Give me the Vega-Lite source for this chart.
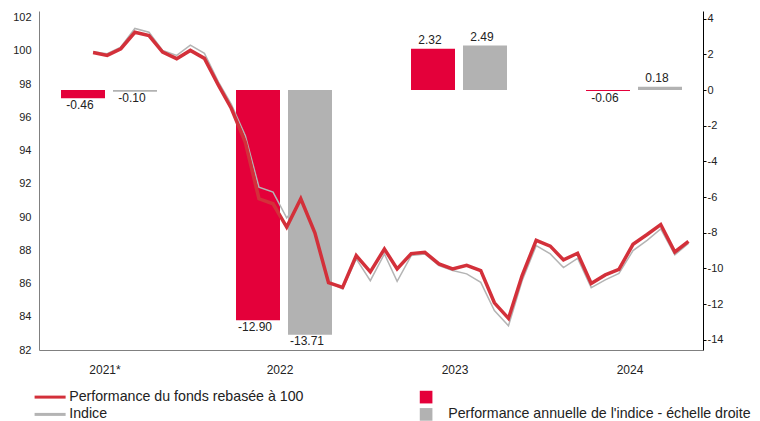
{
  "$schema": "https://vega.github.io/schema/vega-lite/v6.json",
  "width": 664,
  "height": 339,
  "autosize": {"type": "none"},
  "padding": {"left": 39, "top": 11, "right": 57, "bottom": 71},
  "background": "white",
  "config": {
    "font": "Liberation Sans",
    "locale": {"number": {"decimal": ".", "thousands": ",", "grouping": [3], "currency": ["", ""], "minus": "-"}},
    "view": {"stroke": null},
    "axis": {"grid": false, "title": null, "labelFont": "Liberation Sans", "labelColor": "#222222", "labelOverlap": false},
    "legend": {"labelFont": "Liberation Sans"}
  },
  "datasets": {
    "annuel": [
      {"annee": "2021*", "serie": "Performance annuelle du fonds", "perf": -0.46},
      {"annee": "2021*", "serie": "Performance annuelle de l'indice - échelle droite", "perf": -0.10},
      {"annee": "2022", "serie": "Performance annuelle du fonds", "perf": -12.90},
      {"annee": "2022", "serie": "Performance annuelle de l'indice - échelle droite", "perf": -13.71},
      {"annee": "2023", "serie": "Performance annuelle du fonds", "perf": 2.32},
      {"annee": "2023", "serie": "Performance annuelle de l'indice - échelle droite", "perf": 2.49},
      {"annee": "2024", "serie": "Performance annuelle du fonds", "perf": -0.06},
      {"annee": "2024", "serie": "Performance annuelle de l'indice - échelle droite", "perf": 0.18}
    ],
    "mensuel": [
      {"date": "2021-04-30", "fonds": 99.9, "indice": 99.95},
      {"date": "2021-05-31", "fonds": 99.73, "indice": 99.83},
      {"date": "2021-06-30", "fonds": 100.13, "indice": 100.23},
      {"date": "2021-07-31", "fonds": 101.12, "indice": 101.35},
      {"date": "2021-08-31", "fonds": 100.92, "indice": 101.12},
      {"date": "2021-09-30", "fonds": 99.93, "indice": 100.03},
      {"date": "2021-10-31", "fonds": 99.53, "indice": 99.73},
      {"date": "2021-11-30", "fonds": 100.03, "indice": 100.35},
      {"date": "2021-12-31", "fonds": 99.55, "indice": 99.85},
      {"date": "2022-01-31", "fonds": 97.92, "indice": 98.12},
      {"date": "2022-02-28", "fonds": 96.55, "indice": 96.8},
      {"date": "2022-03-31", "fonds": 94.5, "indice": 94.9},
      {"date": "2022-04-30", "fonds": 91.1, "indice": 91.8},
      {"date": "2022-05-31", "fonds": 90.8, "indice": 91.5},
      {"date": "2022-06-30", "fonds": 89.4, "indice": 89.95},
      {"date": "2022-07-31", "fonds": 91.1, "indice": 91.05},
      {"date": "2022-08-31", "fonds": 89.05, "indice": 88.95},
      {"date": "2022-09-30", "fonds": 86.05, "indice": 86.1},
      {"date": "2022-10-31", "fonds": 85.77, "indice": 85.67},
      {"date": "2022-11-30", "fonds": 87.68, "indice": 87.48},
      {"date": "2022-12-31", "fonds": 86.7, "indice": 86.17},
      {"date": "2023-01-31", "fonds": 88.08, "indice": 87.78},
      {"date": "2023-02-28", "fonds": 86.88, "indice": 86.13},
      {"date": "2023-03-31", "fonds": 87.8, "indice": 87.68},
      {"date": "2023-04-30", "fonds": 87.88, "indice": 87.78},
      {"date": "2023-05-31", "fonds": 87.18, "indice": 87.08},
      {"date": "2023-06-30", "fonds": 86.88, "indice": 86.78},
      {"date": "2023-07-31", "fonds": 87.1, "indice": 86.58},
      {"date": "2023-08-31", "fonds": 86.78, "indice": 86.07},
      {"date": "2023-09-30", "fonds": 84.84, "indice": 84.37},
      {"date": "2023-10-31", "fonds": 83.9, "indice": 83.46},
      {"date": "2023-11-30", "fonds": 86.48, "indice": 86.17},
      {"date": "2023-12-31", "fonds": 88.6, "indice": 88.28},
      {"date": "2024-01-31", "fonds": 88.25, "indice": 87.78},
      {"date": "2024-02-29", "fonds": 87.42, "indice": 86.96},
      {"date": "2024-03-31", "fonds": 87.82, "indice": 87.52},
      {"date": "2024-04-30", "fonds": 86.0, "indice": 85.75},
      {"date": "2024-05-31", "fonds": 86.52, "indice": 86.22},
      {"date": "2024-06-30", "fonds": 86.85, "indice": 86.61},
      {"date": "2024-07-31", "fonds": 88.36, "indice": 87.98},
      {"date": "2024-08-31", "fonds": 88.95, "indice": 88.6},
      {"date": "2024-09-30", "fonds": 89.55, "indice": 89.29},
      {"date": "2024-10-31", "fonds": 87.9, "indice": 87.73},
      {"date": "2024-11-30", "fonds": 88.54, "indice": 88.41}
    ]
  },
  "layer": [
    {
      "data": {"name": "annuel"},
      "encoding": {
        "x": {
          "field": "annee", "type": "nominal", "sort": null,
          "scale": {"domain": ["2021*", "2022", "2023", "2024"], "range": [-17.5, 682.5], "paddingInner": 0, "paddingOuter": 0},
          "axis": {"orient": "bottom", "domain": false, "ticks": false, "tickSize": 0, "labelPadding": 14, "labelOffset": -4, "labelAngle": 0, "labelFontSize": 12}
        },
        "xOffset": {
          "field": "serie", "type": "nominal", "sort": null,
          "scale": {"domain": ["Performance annuelle du fonds", "Performance annuelle de l'indice - échelle droite"], "paddingInner": 0.1538, "paddingOuter": 0.76}
        },
        "y": {
          "field": "perf", "type": "quantitative",
          "scale": {"domain": [-14.57, 4.43], "nice": false, "zero": false},
          "axis": {"orient": "right", "values": [-14, -12, -10, -8, -6, -4, -2, 0, 2, 4], "labelOverlap": false, "domainColor": "#000000", "tickColor": "#000000", "tickSize": 3, "labelPadding": 1, "labelFontSize": 11}
        }
      },
      "layer": [
        {
          "mark": {"type": "bar"},
          "encoding": {
            "y2": {"datum": 0},
            "fill": {
              "field": "serie", "type": "nominal",
              "scale": {"domain": ["Performance annuelle du fonds", "Performance annuelle de l'indice - échelle droite"], "range": ["#E4003A", "#B2B2B2"]},
              "legend": {
                "orient": "none", "legendX": 380, "legendY": 379, "direction": "vertical", "title": null,
                "symbolType": "square", "symbolSize": 160, "symbolStrokeWidth": 0,
                "labelFontSize": 14.2, "labelColor": "#222222", "labelOffset": 15, "rowPadding": 2.3, "padding": 0, "labelLimit": 400,
                "labelExpr": "datum.value == 'Performance annuelle du fonds' ? '' : datum.label"
              }
            }
          }
        },
        {
          "transform": [{"filter": "datum.perf >= 0"}],
          "mark": {"type": "text", "baseline": "alphabetic", "dy": -4.5, "dx": -3, "fontSize": 12, "color": "#222222"},
          "encoding": {"text": {"field": "perf", "type": "quantitative", "format": ".2f"}}
        },
        {
          "transform": [{"filter": "datum.perf < 0"}],
          "mark": {"type": "text", "baseline": "top", "dy": 1.5, "dx": -3, "fontSize": 12, "color": "#222222"},
          "encoding": {"text": {"field": "perf", "type": "quantitative", "format": ".2f"}}
        }
      ]
    },
    {
      "data": {"name": "mensuel"},
      "encoding": {
        "x": {
          "field": "date", "type": "temporal",
          "scale": {"type": "utc", "domain": [{"year": 2021, "month": 1, "date": 1, "utc": true}, {"year": 2025, "month": 1, "date": 1, "utc": true}]},
          "axis": {"orient": "bottom", "domain": true, "domainColor": "#808080", "ticks": false, "tickSize": 0, "labels": false}
        }
      },
      "layer": [
        {
          "mark": {"type": "line", "strokeWidth": 1.5, "interpolate": "linear"},
          "encoding": {
            "y": {
              "field": "indice", "type": "quantitative",
              "scale": {"domain": [82, 102.4], "nice": false, "zero": false},
              "axis": {"orient": "left", "values": [82, 84, 86, 88, 90, 92, 94, 96, 98, 100, 102], "labelOverlap": false, "domainColor": "#808080", "ticks": false, "tickSize": 0, "labelPadding": 8, "labelFontSize": 11}
            },
            "stroke": {
              "datum": "Indice", "type": "nominal",
              "scale": {"domain": ["Performance du fonds rebasée à 100", "Indice"], "range": ["#D3303A", "#B4B4B4"]},
              "legend": {
                "orient": "none", "legendX": 4, "legendY": 379, "direction": "vertical", "title": null,
                "symbolType": "M-3,0H3", "symbolSize": 107, "symbolStrokeWidth": 3,
                "labelFontSize": 14.2, "labelColor": "#222222", "labelOffset": 12, "rowPadding": 2.3, "padding": 0, "labelLimit": 400
              }
            }
          }
        },
        {
          "mark": {"type": "line", "strokeWidth": 3.5, "interpolate": "linear"},
          "encoding": {
            "y": {
              "field": "fonds", "type": "quantitative",
              "axis": {"orient": "left", "values": [82, 84, 86, 88, 90, 92, 94, 96, 98, 100, 102], "labelOverlap": false, "domainColor": "#808080", "ticks": false, "tickSize": 0, "labelPadding": 8, "labelFontSize": 11}
            },
            "stroke": {"datum": "Performance du fonds rebasée à 100", "type": "nominal"}
          }
        }
      ]
    }
  ],
  "resolve": {"scale": {"x": "independent", "y": "independent"}, "axis": {"x": "independent", "y": "independent"}}
}
